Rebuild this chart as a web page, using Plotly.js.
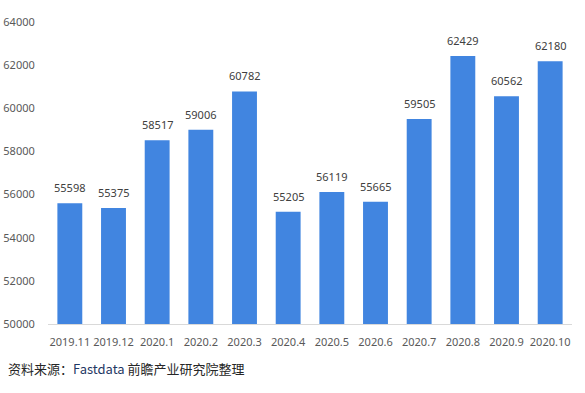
<!DOCTYPE html>
<html><head><meta charset="utf-8">
<script src="https://cdn.plot.ly/plotly-3.0.1.min.js"></script>
<style>html,body{margin:0;padding:0;background:#fff;}#chart{width:585px;height:393px;}</style>
</head><body><div id="chart"></div>
<script>
const categories = ["2019.11","2019.12","2020.1","2020.2","2020.3","2020.4","2020.5","2020.6","2020.7","2020.8","2020.9","2020.10"];
const values = [55598,55375,58517,59006,60782,55205,56119,55665,59505,62429,60562,62180];
const yTicks = [50000,52000,54000,56000,58000,60000,62000,64000];

const labelAnns = categories.map((c, i) => ({
  x: i, y: values[i], xref: 'x', yref: 'y',
  text: String(values[i]), showarrow: false,
  yanchor: 'bottom', yshift: 6,
  font: {family: 'Noto Sans, Open Sans, sans-serif', size: 11, color: '#404040'}
}));

Plotly.newPlot('chart', [{
  type: 'bar',
  x: categories,
  y: values,
  marker: {color: '#4185E0'},
  hoverinfo: 'none'
}], {
  width: 585, height: 393,
  margin: {l: 48, r: 13, t: 22, b: 69},
  paper_bgcolor: '#fff', plot_bgcolor: '#fff',
  bargap: 0.43,
  showlegend: false,
  font: {family: 'Noto Sans, Open Sans, sans-serif', size: 11, color: '#595959'},
  xaxis: {type: 'category', categoryorder: 'array', categoryarray: categories, range: [-0.5, categories.length - 0.5], showgrid: false, showline: true, linecolor: '#d9d9d9', linewidth: 1, ticks: 'outside', ticklen: 8, tickcolor: 'rgba(0,0,0,0)', tickfont: {size: 11, color: '#595959'}, automargin: false},
  yaxis: {range: [50000, 64000], tickvals: yTicks, ticktext: yTicks.map(String), showgrid: false, zeroline: false, showline: false, ticks: 'outside', ticklen: 10, tickcolor: 'rgba(0,0,0,0)', tickfont: {size: 11, color: '#595959'}, automargin: false},
  annotations: labelAnns.concat([{
    xref: 'paper', yref: 'paper', x: -0.08, y: -0.146, xanchor: 'left', yanchor: 'middle',
    text: '资料来源：<span style="color:#1f3864">Fastdata</span> 前瞻产业研究院整理',
    showarrow: false, font: {family: 'Noto Sans CJK SC, sans-serif', size: 13, color: '#262626'}
  }])
}, {staticPlot: true});
</script></body></html>
